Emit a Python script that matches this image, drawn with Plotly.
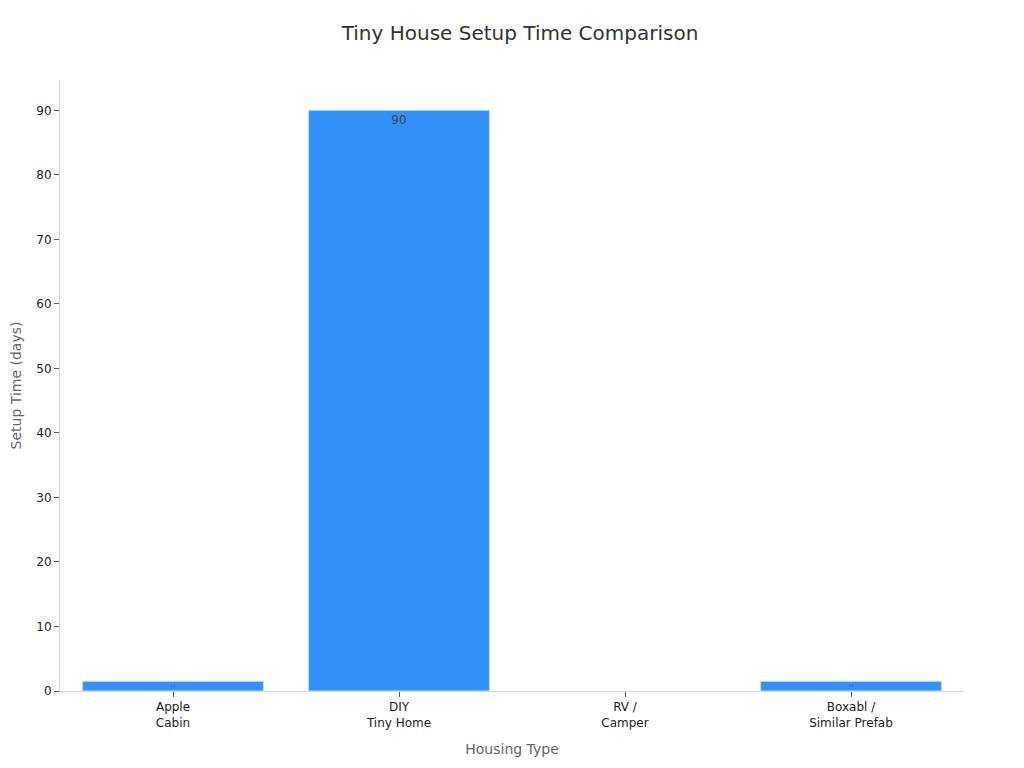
import plotly.graph_objects as go

categories = ["Apple<br>Cabin", "DIY<br>Tiny Home", "RV /<br>Camper", "Boxabl /<br>Similar Prefab"]
setup_days = [1.5, 90, 0, 1.5]

fig = go.Figure()
fig.add_trace(go.Bar(
    x=categories,
    y=setup_days,
    text=setup_days,
    textposition="inside",
    insidetextanchor="end",
    textfont=dict(color="#444444", size=12),
    marker=dict(color="#3092F9",
                line=dict(color="#bcdcff", width=[1 if v > 0 else 0 for v in setup_days])),
))

fig.update_layout(
    width=1024, height=768,
    font=dict(family="DejaVu Sans", color="#222222"),
    title=dict(text="Tiny House Setup Time Comparison", x=0.5, xanchor="center", y=0.9766,
               font=dict(size=20, color="#333333")),
    plot_bgcolor="white", paper_bgcolor="white",
    margin=dict(l=52, r=68, t=72, b=85),
    bargap=0.2,
    showlegend=False,
    xaxis=dict(title=dict(text="Housing Type", font=dict(size=14, color="#666666")),
               showline=True, linecolor="#d6d6d6", ticks="outside", ticklen=5, tickcolor="#555555",
               tickfont=dict(size=12)),
    yaxis=dict(title=dict(text="Setup Time (days)", font=dict(size=14, color="#666666")),
               automargin=False,
               range=[0, 94.7], dtick=10, showgrid=False, zeroline=False,
               showline=True, linecolor="#d6d6d6", ticks="outside", ticklen=5, tickcolor="#555555",
               tickfont=dict(size=12)),
)

fig.write_html("out.html")
